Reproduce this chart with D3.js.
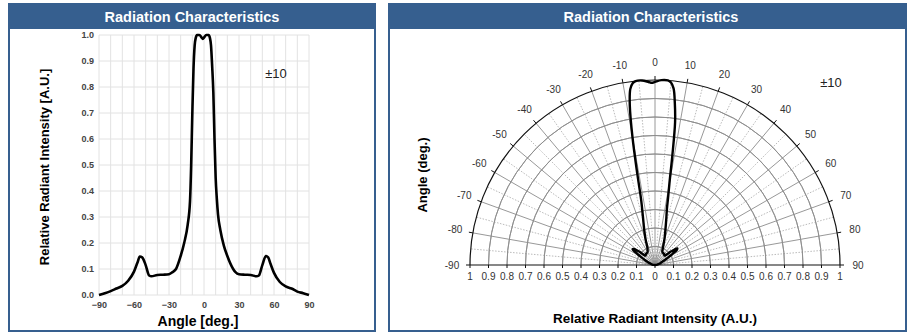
<!DOCTYPE html>
<html><head><meta charset="utf-8">
<script src="https://cdn.jsdelivr.net/npm/d3@7"></script>
<style>
body{margin:0;background:#fff;font-family:"Liberation Sans",Arial,sans-serif;}
svg{display:block}
</style></head>
<body>
<svg id="c" width="915" height="336"></svg>
<script>
// ---- data ----
const angles = [-90,-85,-80,-75,-70,-65,-60,-57,-55,-53,-50,-47,-45,-40,-35,-30,-27,-24,-20,-17,-14,-12,-11,-10,-9,-8,-7,-6,-4,-2,-1,0,2,4,5,6,7,8,9,10,11,12,14,17,20,25,27,30,35,40,45,47,50,53,55,57,60,65,70,75,80,85,90];
const intensity = [0,0.007,0.015,0.025,0.035,0.055,0.09,0.125,0.148,0.145,0.115,0.075,0.072,0.077,0.078,0.08,0.088,0.1,0.15,0.2,0.27,0.36,0.5,0.7,0.87,0.96,0.99,1.0,1.0,0.99,0.985,0.99,1.0,1.0,0.99,0.96,0.88,0.78,0.6,0.45,0.37,0.31,0.25,0.19,0.15,0.1,0.088,0.08,0.078,0.077,0.072,0.075,0.115,0.15,0.145,0.12,0.085,0.05,0.033,0.025,0.013,0.007,0];
const xTicks = [-90,-60,-30,0,30,60,90];
const yTicks = [0,0.1,0.2,0.3,0.4,0.5,0.6,0.7,0.8,0.9,1.0];
const polarAngleTicks = [-90,-80,-70,-60,-50,-40,-30,-20,-10,0,10,20,30,40,50,60,70,80,90];
const polarRadiusTicks = [0.1,0.2,0.3,0.4,0.5,0.6,0.7,0.8,0.9,1.0];
const baseTicks = [-1,-0.9,-0.8,-0.7,-0.6,-0.5,-0.4,-0.3,-0.2,-0.1,0,0.1,0.2,0.3,0.4,0.5,0.6,0.7,0.8,0.9,1];
const title = "Radiation Characteristics";
const note = "±10";
const data = angles.map((a,i)=>({a, v:intensity[i]}));

const svg = d3.select("#c");
const BLUE = "#365f8f";

function panel(x0, x1, cxTitle){
  svg.append("rect").attr("x",x0).attr("y",3).attr("width",x1-x0).attr("height",26).attr("fill",BLUE);
  svg.append("rect").attr("x",x0+1).attr("y",4).attr("width",x1-x0-2).attr("height",327)
    .attr("fill","none").attr("stroke",BLUE).attr("stroke-width",2);
  svg.append("text").attr("x",cxTitle).attr("y",21.5).attr("text-anchor","middle")
    .attr("fill","#fff").attr("font-weight","bold").attr("font-size",14.5).text(title);
}
panel(8, 376, 192);
panel(388, 907, 651);

// ---- left cartesian chart ----
const x = d3.scaleLinear().domain([-90,90]).range([99,309]);
const y = d3.scaleLinear().domain([0,1]).range([295,35]);
const gl = svg.append("g");
gl.selectAll(".vg").data(d3.range(-90,91,10)).join("line")
  .attr("x1",d=>x(d)).attr("x2",d=>x(d)).attr("y1",y(0)).attr("y2",y(1))
  .attr("stroke","#e2e2e2").attr("stroke-width",1);
gl.selectAll(".hg").data(yTicks).join("line")
  .attr("x1",x(-90)).attr("x2",x(90)).attr("y1",d=>y(d)).attr("y2",d=>y(d))
  .attr("stroke","#e2e2e2").attr("stroke-width",1);

const ax = gl.append("g").attr("transform",`translate(0,${y(0)+4})`)
  .call(d3.axisBottom(x).tickValues(xTicks).tickSize(0).tickPadding(3));
ax.select(".domain").remove();
ax.selectAll("text").attr("font-size",9).attr("font-weight","bold").attr("fill","#444")
  .attr("font-family","Liberation Sans, Arial, sans-serif");
const ay = gl.append("g").attr("transform",`translate(${x(-90)-5},0)`)
  .call(d3.axisLeft(y).tickValues(yTicks).tickFormat(d3.format(".1f")).tickSize(0).tickPadding(0));
ay.select(".domain").remove();
ay.selectAll("text").attr("font-size",9).attr("font-weight","bold").attr("fill","#444")
  .attr("font-family","Liberation Sans, Arial, sans-serif");

gl.append("path").datum(data)
  .attr("d", d3.line().x(d=>x(d.a)).y(d=>y(d.v)).curve(d3.curveMonotoneX))
  .attr("fill","none").attr("stroke","#000").attr("stroke-width",2.6).attr("stroke-linejoin","round");

gl.append("text").attr("x",198).attr("y",325.5).attr("text-anchor","middle")
  .attr("font-weight","bold").attr("font-size",14).attr("fill","#000").text("Angle [deg.]");
gl.append("text").attr("transform","translate(49,167) rotate(-90)").attr("text-anchor","middle")
  .attr("font-weight","bold").attr("font-size",13).attr("fill","#000").text("Relative Radiant Intensity [A.U.]");
gl.append("text").attr("x",276).attr("y",78).attr("text-anchor","middle")
  .attr("font-size",13).attr("fill","#222").text(note);

// ---- right polar chart ----
const cx = 655, cy = 265, R = 185;
const r = d3.scaleLinear().domain([0,1]).range([0,R]);
const rad = d => d*Math.PI/180;
const gp = svg.append("g").attr("transform",`translate(${cx},${cy})`);

// dotted 5-degree radials
gp.selectAll(".rd").data(d3.range(-85,90,10)).join("line")
  .attr("x1",0).attr("y1",0)
  .attr("x2",d=>r(1)*Math.sin(rad(d))).attr("y2",d=>-r(1)*Math.cos(rad(d)))
  .attr("stroke","#a8a8a8").attr("stroke-width",0.8).attr("stroke-dasharray","1.5,1.5");
// solid 10-degree radials
gp.selectAll(".rs").data(polarAngleTicks.filter(d=>Math.abs(d)<90)).join("line")
  .attr("x1",0).attr("y1",0)
  .attr("x2",d=>r(1)*Math.sin(rad(d))).attr("y2",d=>-r(1)*Math.cos(rad(d)))
  .attr("stroke","#8c8c8c").attr("stroke-width",0.9);
// concentric arcs
const arc = d3.arc().startAngle(-Math.PI/2).endAngle(Math.PI/2);
gp.selectAll(".ca").data(polarRadiusTicks.slice(0,-1)).join("path")
  .attr("d",d=>arc({innerRadius:r(d),outerRadius:r(d)}))
  .attr("fill","none").attr("stroke","#8c8c8c").attr("stroke-width",0.9);
gp.append("path").attr("d",arc({innerRadius:r(1),outerRadius:r(1)}))
  .attr("fill","none").attr("stroke","#111").attr("stroke-width",1.2);
// outer ticks
gp.selectAll(".ot").data(polarAngleTicks).join("line")
  .attr("x1",d=>r(1)*Math.sin(rad(d))).attr("y1",d=>-r(1)*Math.cos(rad(d)))
  .attr("x2",d=>(r(1)+4)*Math.sin(rad(d))).attr("y2",d=>-(r(1)+4)*Math.cos(rad(d)))
  .attr("stroke","#111").attr("stroke-width",1);
// angle labels
gp.selectAll(".al").data(polarAngleTicks).join("text")
  .attr("x",d=>203*Math.sin(rad(d))).attr("y",d=>-203*Math.cos(rad(d)))
  .attr("text-anchor","middle").attr("dominant-baseline","central")
  .attr("font-size",10).attr("fill","#333").text(d=>d);
// baseline axis
const bx = d3.scaleLinear().domain([-1,1]).range([-R,R]);
gp.append("line").attr("x1",-R).attr("x2",R).attr("y1",0).attr("y2",0)
  .attr("stroke","#111").attr("stroke-width",1.2);
gp.selectAll(".bt").data(baseTicks).join("line")
  .attr("x1",d=>bx(d)).attr("x2",d=>bx(d)).attr("y1",0).attr("y2",3)
  .attr("stroke","#111").attr("stroke-width",1);
gp.selectAll(".bl").data(baseTicks).join("text")
  .attr("x",d=>bx(d)).attr("y",15).attr("text-anchor","middle")
  .attr("font-size",10).attr("fill","#333").text(d=>d3.format("~g")(Math.abs(d)));
// curve
gp.append("path").datum(data)
  .attr("d", d3.lineRadial().angle(d=>rad(d.a)).radius(d=>r(d.v)).curve(d3.curveCatmullRom))
  .attr("fill","none").attr("stroke","#000").attr("stroke-width",2.4).attr("stroke-linejoin","round");

svg.append("text").attr("x",655).attr("y",322.5).attr("text-anchor","middle")
  .attr("font-weight","bold").attr("font-size",13.5).attr("fill","#000").text("Relative Radiant Intensity (A.U.)");
svg.append("text").attr("transform","translate(427,175) rotate(-90)").attr("text-anchor","middle")
  .attr("font-weight","bold").attr("font-size",13).attr("fill","#000").text("Angle (deg.)");
svg.append("text").attr("x",831).attr("y",87).attr("text-anchor","middle")
  .attr("font-size",13).attr("fill","#222").text(note);
</script>
</body></html>
